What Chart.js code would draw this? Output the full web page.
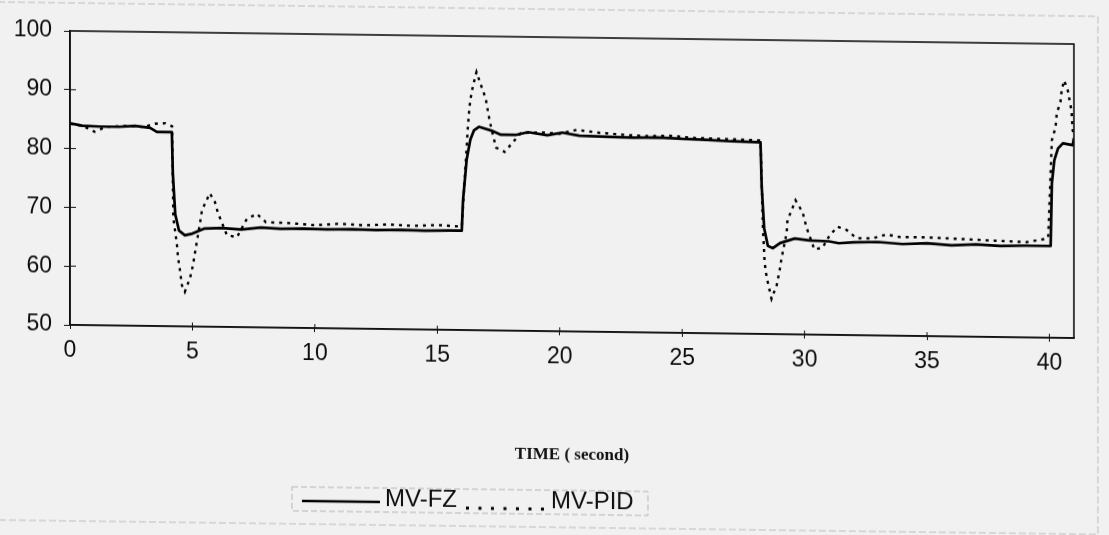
<!DOCTYPE html>
<html>
<head>
<meta charset="utf-8">
<title>MV-FZ / MV-PID</title>
<script src="https://cdn.jsdelivr.net/npm/chart.js@4.4.0/dist/chart.umd.min.js"></script>
<style>
    html, body { margin: 0; padding: 0; background: #f1f1f1; overflow: hidden; }
    #wrap { width: 1109px; height: 535px; transform: skewY(0.75deg); transform-origin: 0 0; }
</style>
</head>
<body>
<div id="wrap"><canvas id="mv-chart" width="1109" height="535"></canvas></div>
<script>
    "use strict";

    // MV-FZ (fuzzy controller output)
    var fzTime = [0, 0.5, 1.2, 2.0, 2.65, 3.27, 3.55, 4.16, 4.2, 4.3, 4.45, 4.69, 5.0, 5.5, 6.2, 7.0, 7.8, 8.6, 9.5, 10.5,
        11.5, 12.5, 13.5, 14.5, 15.5, 16.0, 16.05, 16.2, 16.35, 16.5, 16.7, 17.2, 17.6, 18.2, 18.7, 19.5, 20.1, 20.8, 22.0, 23.0,
        24.0, 25.0, 26.0, 27.0, 28.2, 28.25, 28.35, 28.5, 28.7, 29.0, 29.6, 30.2, 31.0, 31.4, 32.0, 33.0, 34.0, 35.0, 36.0, 37.0,
        38.0, 39.0, 40.05, 40.1, 40.2, 40.35, 40.55, 40.95, 41.0];
    var fzValue = [84.3, 83.9, 83.8, 83.8, 84.0, 83.7, 83.0, 83.0, 76, 69, 66.3, 65.5, 65.8, 66.7, 66.8, 66.6, 67.0, 66.8, 66.9, 66.8,
        66.9, 66.8, 66.9, 66.8, 66.9, 66.9, 72, 79, 82.4, 84.0, 84.6, 84.0, 83.3, 83.3, 83.8, 83.3, 83.8, 83.3, 83.2, 83.1,
        83.2, 83.0, 82.9, 82.7, 82.6, 75, 68, 65.0, 64.6, 65.5, 66.3, 66.0, 65.9, 65.6, 65.8, 65.9, 65.6, 65.8, 65.5, 65.7,
        65.5, 65.6, 65.6, 76.3, 80.2, 82.2, 83.1, 82.8, 84.0];

    // MV-PID (PID controller output)
    var pidTime = [0, 0.5, 1.0, 1.5, 2.5, 3.0, 3.47, 3.9, 4.17, 4.22, 4.29, 4.37, 4.41, 4.49, 4.57, 4.69, 4.9, 5.02, 5.18, 5.31,
        5.39, 5.71, 5.92, 6.04, 6.41, 6.82, 7.22, 7.63, 8.0, 9.0, 10.0, 11.0, 12.0, 13.0, 14.0, 15.0, 16.0, 16.25, 16.3, 16.35,
        16.45, 16.6, 16.8, 16.98, 17.1, 17.2, 17.4, 17.75, 18.1, 18.4, 19.2, 20.0, 20.7, 21.5, 22.5, 23.5, 24.5, 25.5, 26.5, 27.5,
        28.2, 28.3, 28.37, 28.45, 28.65, 28.86, 28.98, 29.06, 29.27, 29.3, 29.47, 29.63, 29.92, 30.08, 30.4, 30.73, 31.02, 31.35, 31.71, 32.12,
        32.78, 33.35, 33.88, 34.98, 36.33, 37.67, 39.06, 39.71, 39.95, 40.1, 40.25, 40.3, 40.45, 40.5, 40.6, 40.75, 40.9, 40.95, 41.0];
    var pidValue = [84.2, 83.9, 82.9, 83.8, 84.0, 83.8, 84.4, 84.5, 84.0, 68.4, 66.3, 63.8, 61.8, 59.6, 57.0, 55.9, 58.2, 60.4, 64.4, 67.6,
        69.8, 72.7, 71.2, 69.4, 65.6, 65.3, 68.4, 69.3, 67.9, 67.8, 67.5, 67.8, 67.6, 67.8, 67.6, 67.8, 67.6, 84.5, 87.2, 89.2,
        91.4, 93.9, 91.5, 89.4, 86.5, 84.5, 81.1, 80.4, 82.1, 83.6, 83.8, 83.6, 84.3, 83.9, 83.6, 83.4, 83.5, 83.2, 83.1, 83.0,
        82.9, 68.0, 62.1, 59.7, 56.0, 58.3, 60.8, 62.9, 67.3, 69.4, 71.1, 72.8, 70.8, 68.2, 64.5, 64.8, 66.9, 68.4, 67.9, 66.5,
        66.5, 67.2, 66.8, 66.8, 66.6, 66.4, 66.2, 66.7, 67.0, 83.6, 85.8, 88.2, 90.1, 92.1, 93.8, 92.1, 88.7, 85.3, 84.5];

    // Axis ticks
    var xTicks = [0, 5, 10, 15, 20, 25, 30, 35, 40];
    var yTicks = [50, 60, 70, 80, 90, 100];

    function toPoints(times, values) {
        return times.map(function (t, i) {
            return {x: t, y: values[i]};
        });
    }

    Chart.defaults.font.family = "'Liberation Sans', Arial, sans-serif";
    Chart.defaults.color = "#0d0d0d";


    // Faint outer border of the chart object
    var outerFrame = {
        id: 'outerFrame',
        beforeDraw: function (chart) {
            var ctx = chart.ctx;
            ctx.save();
            ctx.strokeStyle = "#bdbdbd";
            ctx.lineWidth = 1;
            ctx.setLineDash([7, 3]);
            ctx.strokeRect(-2, 2, 1100, 518);
            ctx.restore();
        }
    };


    // Plot box plus the inner half of the tick crosses
    var plotFrame = {
        id: 'plotFrame',
        afterDraw: function (chart) {
            var ctx = chart.ctx;
            var a = chart.chartArea;
            var xs = chart.scales.x, ys = chart.scales.y;
            ctx.save();
            ctx.strokeStyle = "#111";
            ctx.lineWidth = 1.6;
            ctx.strokeRect(a.left, a.top, a.right - a.left, a.bottom - a.top);
            ctx.lineWidth = 1;
            ctx.beginPath();
            yTicks.slice(1, -1).forEach(function (v) {
                var py = ys.getPixelForValue(v);
                ctx.moveTo(a.left, py);
                ctx.lineTo(a.left + 6, py);
            });
            xTicks.slice(1).forEach(function (v) {
                var px = xs.getPixelForValue(v);
                ctx.moveTo(px, a.bottom);
                ctx.lineTo(px, a.bottom - 4);
            });
            ctx.stroke();
            ctx.restore();
        }
    };


    // Boxed legend under the axis title
    var lineLegend = {
        id: 'lineLegend',
        afterDraw: function (chart) {
            var ctx = chart.ctx;
            var sets = chart.data.datasets;
            var y = 494;
            ctx.save();
            ctx.strokeStyle = "#b5b5b5";
            ctx.lineWidth = 1;
            ctx.setLineDash([6, 3]);
            ctx.strokeRect(292, 483, 356, 24);

            ctx.strokeStyle = "#000";
            ctx.lineWidth = 2.6;
            ctx.setLineDash([]);
            ctx.beginPath();
            ctx.moveTo(302, y + 3);
            ctx.lineTo(380, y + 3);
            ctx.stroke();

            ctx.lineWidth = 3;
            ctx.setLineDash([3, 9.5]);
            ctx.beginPath();
            ctx.moveTo(466, y + 8);
            ctx.lineTo(544, y + 8);
            ctx.stroke();

            ctx.fillStyle = "#0d0d0d";
            ctx.font = "24px 'Liberation Sans', Arial, sans-serif";
            ctx.textBaseline = "middle";
            ctx.fillText(sets[0].label, 385, y);
            ctx.fillText(sets[1].label, 551, y);
            ctx.restore();
        }
    };


    var ctx1 = document.getElementById("mv-chart").getContext("2d");
    var mvChart = new Chart(ctx1, {
        type: "line",
        data: {
            datasets: [{
                    label: "MV-FZ",
                    data: toPoints(fzTime, fzValue),
                    borderColor: "#000",
                    borderWidth: 2.7,
                    borderJoinStyle: "round",
                    pointRadius: 0,
                    tension: 0
                },
                {
                    label: "MV-PID",
                    data: toPoints(pidTime, pidValue),
                    borderColor: "#000",
                    borderWidth: 2.4,
                    borderDash: [3, 5],
                    pointRadius: 0,
                    tension: 0
                }
            ]
        },
        options: {
            responsive: false,
            animation: false,
            layout: {
                padding: {top: 30, right: 35, left: 0, bottom: 0}
            },
            plugins: {
                legend: {display: false},
                tooltip: {enabled: false}
            },
            scales: {
                x: {
                    type: "linear",
                    min: 0,
                    max: 41,
                    afterBuildTicks: function (scale) {
                        scale.ticks = xTicks.map(function (v) { return {value: v}; });
                    },
                    afterFit: function (scale) {
                        scale.height = 211;
                    },
                    ticks: {
                        font: {size: 23},
                        color: "#0d0d0d",
                        padding: 8,
                        maxRotation: 0
                    },
                    grid: {drawOnChartArea: false, tickLength: 4, color: "#111"},
                    border: {color: "#111", width: 1.6},
                    title: {
                        display: true,
                        text: "TIME ( second)",
                        color: "#111",
                        font: {family: "'Liberation Serif', 'Times New Roman', serif", size: 17, weight: "bold"},
                        padding: {bottom: 77}
                    }
                },
                y: {
                    min: 50,
                    max: 100,
                    afterBuildTicks: function (scale) {
                        scale.ticks = yTicks.map(function (v) { return {value: v}; });
                    },
                    afterFit: function (scale) {
                        scale.width = 70;
                    },
                    ticks: {
                        font: {size: 23},
                        color: "#0d0d0d",
                        padding: 12
                    },
                    grid: {drawOnChartArea: false, tickLength: 6, color: "#111"},
                    border: {color: "#111", width: 1.6}
                }
            }
        },
        plugins: [outerFrame, plotFrame, lineLegend]
    });
</script>
</body>
</html>
